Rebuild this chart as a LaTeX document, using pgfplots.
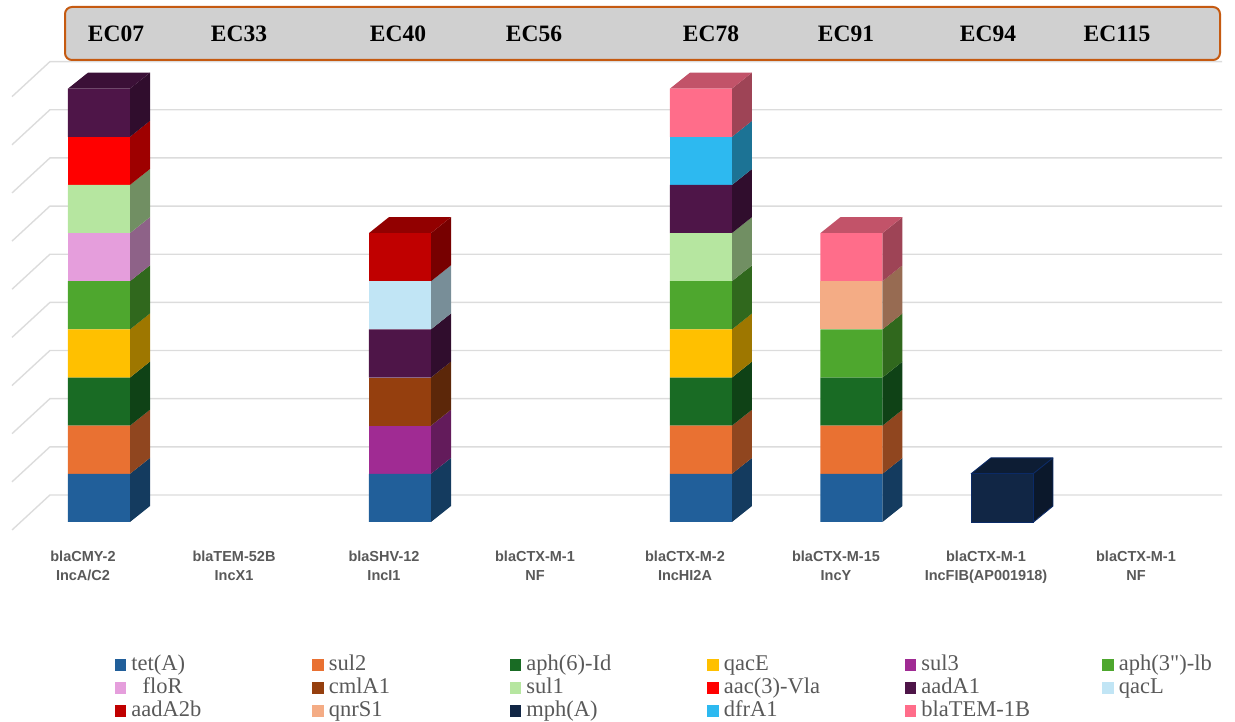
\documentclass[border=0pt]{standalone}
\usepackage{fontspec}
\usepackage{pgfplots}
\usepackage{pgfplotstable}
\pgfplotsset{compat=1.18}
\setmainfont{Liberation Serif}
\newfontfamily\rawserif{Liberation Serif}
\newfontfamily\labelfont{Liberation Sans}

% Gene colours
\definecolor{ctet}{HTML}{215F9A}
\definecolor{csulb}{HTML}{E97132}
\definecolor{caphsix}{HTML}{196B24}
\definecolor{cqacE}{HTML}{FFC000}
\definecolor{csulc}{HTML}{A02B93}
\definecolor{caphthree}{HTML}{4EA72E}
\definecolor{cfloR}{HTML}{E59EDC}
\definecolor{ccml}{HTML}{953F0E}
\definecolor{csula}{HTML}{B6E6A0}
\definecolor{caac}{HTML}{FF0000}
\definecolor{caada}{HTML}{4E1548}
\definecolor{cqacL}{HTML}{C1E5F5}
\definecolor{caadb}{HTML}{C00000}
\definecolor{cqnr}{HTML}{F4AC85}
\definecolor{cmph}{HTML}{112645}
\definecolor{cmphedge}{HTML}{0B2A66}
\definecolor{cdfr}{HTML}{2DB9F0}
\definecolor{ctem}{HTML}{FF6D8A}
\definecolor{gridgray}{HTML}{DCDCDC}
\definecolor{textgray}{HTML}{595959}
\definecolor{bannerline}{HTML}{C55A11}
\definecolor{bannerfill}{HTML}{D0D0D0}

% One unit per gene present in each isolate
\pgfplotstableread{
pos tet sulb aphsix qacE sulc aphthree floR cml sula aac aada qacL aadb qnr mph dfr tem
0   1   1    1      1    0    1        1    0   1    1   1    0    0    0   0   0   0
1   0   0    0      0    0    0        0    0   0    0   0    0    0    0   0   0   0
2   1   0    0      0    1    0        0    1   0    0   1    1    1    0   0   0   0
3   0   0    0      0    0    0        0    0   0    0   0    0    0    0   0   0   0
4   1   1    1      1    0    1        0    0   1    0   1    0    0    0   0   1   1
5   1   1    1      0    0    1        0    0   0    0   0    0    0    1   0   0   1
6   0   0    0      0    0    0        0    0   0    0   0    0    0    0   1   0   0
7   0   0    0      0    0    0        0    0   0    0   0    0    0    0   0   0   0
}\genes

\newcommand\halfw{0.206}
\newcommand\depthx{0.1329}
\newcommand\depthy{0.332}

% Receding side faces of one stack, genes listed bottom to top
\newcommand\sidefaces[2]{%
  \foreach \g [count=\n from 0] in {#2} {%
    \pgfmathsetmacro\xa{#1+\halfw}%
    \pgfmathsetmacro\xb{#1+\halfw+\depthx}%
    \pgfmathsetmacro\ya{\n+\depthy}%
    \pgfmathsetmacro\yb{\n+1}%
    \pgfmathsetmacro\yc{\n+1+\depthy}%
    \edef\tmp{\noexpand\addplot[fill=c\g!62!black,draw=none,forget plot]
      coordinates {(\xa,\n) (\xb,\ya) (\xb,\yc) (\xa,\yb)} -- cycle;}%
    \tmp
  }%
}
% Top face of a stack whose height is #2
\newcommand\topface[3]{%
  \pgfmathsetmacro\xa{#1-\halfw}%
  \pgfmathsetmacro\xb{#1+\halfw}%
  \pgfmathsetmacro\xc{#1-\halfw+\depthx}%
  \pgfmathsetmacro\xd{#1+\halfw+\depthx}%
  \pgfmathsetmacro\ya{#2+\depthy}%
  \edef\tmp{\noexpand\addplot[fill=c#3!76!black,draw=none,forget plot]
    coordinates {(\xa,#2) (\xc,\ya) (\xd,\ya) (\xb,#2)} -- cycle;}%
  \tmp
}

\pgfplotsset{
  canvas/.style={
    at={(0pt,0pt)}, anchor=south west,
    width=1235pt, height=721pt, scale only axis, hide axis,
    xmin=-0.6578, xmax=7.548, ymin=-4.133, ymax=10.841,
    clip=false,
  },
  gene/.style={
    fill=c#1, draw=none,
    legend image code/.code={\fill[c#1] (0pt,-0.5pt) rectangle (11.5pt,11pt);},
  },
}
\newcommand\gl[1]{\makebox[186pt][l]{\hspace{5pt}#1}}

\begin{document}
\begin{tikzpicture}[x=1pt,y=1pt]
\useasboundingbox (0,0) rectangle (1235,721);

% Floor-and-wall gridlines and the depth faces of the columns
\begin{axis}[canvas]
  \foreach \k in {0,...,9} {%
    \pgfmathsetmacro\yf{\k-0.166}%
    \pgfmathsetmacro\yb{\k+0.561}%
    \edef\tmp{\noexpand\addplot[gridgray,line width=1.4pt,forget plot]
      coordinates {(-0.578,\yf) (-0.326,\yb) (7.462,\yb)};}%
    \tmp
  }
  \sidefaces{0}{tet,sulb,aphsix,qacE,aphthree,floR,sula,aac,aada}
  \topface{0}{9}{aada}
  \sidefaces{2}{tet,sulc,cml,aada,qacL,aadb}
  \topface{2}{6}{aadb}
  \sidefaces{4}{tet,sulb,aphsix,qacE,aphthree,sula,aada,dfr,tem}
  \topface{4}{9}{tem}
  \sidefaces{5}{tet,sulb,aphsix,aphthree,qnr,tem}
  \topface{5}{6}{tem}
  \sidefaces{6}{mph}
  \topface{6}{1}{mph}
\end{axis}

% Front faces, stacked
\begin{axis}[canvas,
    ybar stacked, bar width=62pt,
    legend columns=6,
    legend style={
      at={(115/1235,66/721)}, anchor=north west,
      draw=none, fill=none, inner sep=0pt, outer sep=0pt,
      font=\fontsize{22.5}{23}\selectfont, text=textgray,
      row sep=0pt, column sep=0pt,
      nodes={inner sep=0pt, outer sep=0pt, text height=15pt, text depth=8pt, anchor=base west, xshift=4pt},
    },
  ]
  \addplot[gene=tet]      table[x=pos,y=tet]      {\genes};
  \addplot[gene=sulb]     table[x=pos,y=sulb]     {\genes};
  \addplot[gene=aphsix]   table[x=pos,y=aphsix]   {\genes};
  \addplot[gene=qacE]     table[x=pos,y=qacE]     {\genes};
  \addplot[gene=sulc]     table[x=pos,y=sulc]     {\genes};
  \addplot[gene=aphthree] table[x=pos,y=aphthree] {\genes};
  \addplot[gene=floR]     table[x=pos,y=floR]     {\genes};
  \addplot[gene=cml]      table[x=pos,y=cml]      {\genes};
  \addplot[gene=sula]     table[x=pos,y=sula]     {\genes};
  \addplot[gene=aac]      table[x=pos,y=aac]      {\genes};
  \addplot[gene=aada]     table[x=pos,y=aada]     {\genes};
  \addplot[gene=qacL]     table[x=pos,y=qacL]     {\genes};
  \addplot[gene=aadb]     table[x=pos,y=aadb]     {\genes};
  \addplot[gene=qnr]      table[x=pos,y=qnr]      {\genes};
  \addplot[gene=mph]      table[x=pos,y=mph]      {\genes};
  \addplot[gene=dfr]      table[x=pos,y=dfr]      {\genes};
  \addplot[gene=tem]      table[x=pos,y=tem]      {\genes};
  \legend{
    \gl{tet(A)}, \gl{sul2}, \gl{aph(6)-Id}, \gl{qacE}, \gl{sul3}, \gl{\rawserif aph(3")-lb},
    \gl{\ \ floR}, \gl{cmlA1}, \gl{sul1}, \gl{aac(3)-Vla}, \gl{aadA1}, \gl{qacL},
    \gl{aadA2b}, \gl{qnrS1}, \gl{mph(A)}, \gl{dfrA1}, \gl{blaTEM-1B}
  }
\end{axis}

% Edge line of the single mph(A) column
\begin{axis}[canvas]
  \addplot[cmphedge,line width=0.9pt,line join=round,forget plot] coordinates
    {(5.794,-0.01) (6.206,-0.01) (6.206,1) (5.794,1) (5.794,-0.01)};
  \addplot[cmphedge,line width=0.9pt,line join=round,forget plot] coordinates
    {(5.794,1) (5.927,1.332) (6.339,1.332) (6.206,1)};
  \addplot[cmphedge,line width=0.9pt,line join=round,forget plot] coordinates
    {(6.339,1.332) (6.339,0.332) (6.206,-0.01)};
\end{axis}

% Isolate banner
\draw[draw=bannerline, line width=2pt, fill=bannerfill, rounded corners=7pt]
  (65,661) rectangle (1220,714);
\foreach \name/\cx in {EC07/116,EC33/239,EC40/398,EC56/534,EC78/711,EC91/846,EC94/988,EC115/1117}
  \node[font=\fontsize{23.5}{26}\selectfont\bfseries, text=black] at (\cx,687) {\name};

% Resistance gene and replicon under each isolate
\foreach \gene/\rep/\cx in {blaCMY-2/IncA\slash C2/83, blaTEM-52B/IncX1/234, blaSHV-12/IncI1/384,
    blaCTX-M-1/NF/535, blaCTX-M-2/IncHI2A/685, blaCTX-M-15/IncY/836,
    blaCTX-M-1/IncFIB(AP001918)/986, blaCTX-M-1/NF/1136} {
  \node[anchor=base, font=\labelfont\fontsize{14.5}{16}\selectfont\bfseries, text=textgray] at (\cx,160) {\gene};
  \node[anchor=base, font=\labelfont\fontsize{14.5}{16}\selectfont\bfseries, text=textgray] at (\cx,140) {\rep};
}
\end{tikzpicture}
\end{document}
